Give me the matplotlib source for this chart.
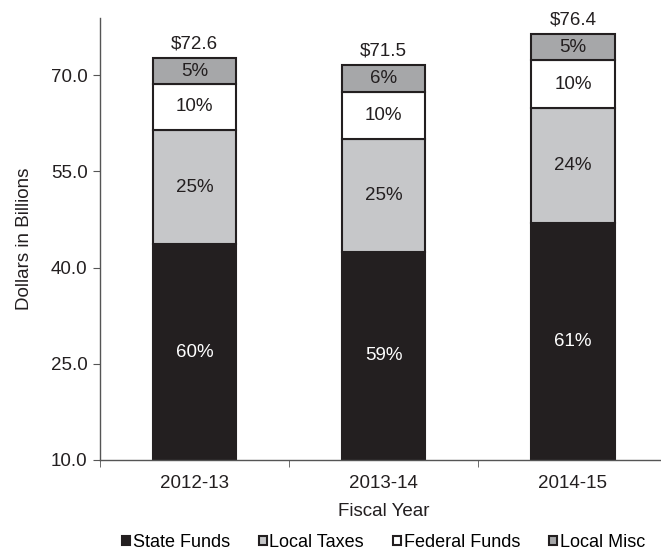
import matplotlib.pyplot as plt
import numpy as np

plt.rcParams['font.family'] = ['Liberation Sans', 'DejaVu Sans']

# data (billions of dollars)
years = ['2012-13', '2013-14', '2014-15']
state_funds = [43.6, 42.5, 46.9]
local_taxes = [17.9, 17.6, 17.9]
federal_funds = [7.1, 7.3, 7.5]
local_misc = [4.0, 4.1, 4.1]
totals = ['$72.6', '$71.5', '$76.4']

state_pct = ['60%', '59%', '61%']
local_pct = ['25%', '25%', '24%']
federal_pct = ['10%', '10%', '10%']
misc_pct = ['5%', '6%', '5%']

series = [
    ('State Funds', state_funds, state_pct, '#231f20', 'white'),
    ('Local Taxes', local_taxes, local_pct, '#c6c7c9', '#231f20'),
    ('Federal Funds', federal_funds, federal_pct, 'white', '#231f20'),
    ('Local Misc', local_misc, misc_pct, '#a6a7a9', '#231f20'),
]

ymin, ymax = 10, 78.9
fs = 13.5

fig = plt.figure(figsize=(6.61, 5.54), dpi=100)
ax = fig.add_axes([0.1513, 0.1697, 0.8586, 0.7978])

x = np.arange(len(years))
bottom = np.zeros(len(years))
for name, vals, pcts, color, tcolor in series:
    vals = np.array(vals)
    ax.bar(x, vals, 0.44, bottom=bottom, color=color, edgecolor='#231f20',
           linewidth=1.5, label=name, zorder=2)
    for i in range(len(x)):
        # state funds label sits in the middle of the visible part
        lo = max(bottom[i], ymin)
        hi = bottom[i] + vals[i]
        ax.text(x[i], (lo + hi) / 2, pcts[i], ha='center', va='center',
                fontsize=fs, color=tcolor, zorder=3)
    bottom += vals

for i in range(len(x)):
    ax.annotate(totals[i], (x[i], bottom[i]), xytext=(0, 4),
                textcoords='offset points', ha='center', va='bottom',
                fontsize=fs, color='#231f20')

ax.set_xlim(-0.5, 2.5)
ax.set_ylim(ymin, ymax)
ax.set_yticks([10, 25, 40, 55, 70])
ax.set_yticklabels(['10.0', '25.0', '40.0', '55.0', '70.0'])
ax.set_xticks(x)
ax.set_xticklabels(years)
ax.set_xticks([-0.5, 0.5, 1.5, 2.5], minor=True)
ax.tick_params(axis='x', which='major', length=0, pad=11, labelsize=fs,
               colors='#231f20')
ax.tick_params(axis='x', which='minor', length=5, color='#555555')
ax.tick_params(axis='y', length=5, color='#555555', labelsize=fs,
               labelcolor='#231f20', pad=4)

for side in ['top', 'right']:
    ax.spines[side].set_visible(False)
for side in ['left', 'bottom']:
    ax.spines[side].set_color('#555555')
    ax.spines[side].set_linewidth(1.0)

ax.set_xlabel('Fiscal Year', fontsize=fs, color='#231f20', labelpad=8)
ax.set_ylabel('Dollars in Billions', fontsize=fs, color='#231f20', labelpad=13)

handles, labels = ax.get_legend_handles_labels()
fig.legend(handles, labels, loc='center', bbox_to_anchor=(0.580, 0.021),
           ncol=4, frameon=False, fontsize=13, handlelength=0.45,
           handleheight=0.45, handletextpad=0.15, columnspacing=1.6,
           borderaxespad=0, borderpad=0)

fig.savefig('out.png', dpi=100)
